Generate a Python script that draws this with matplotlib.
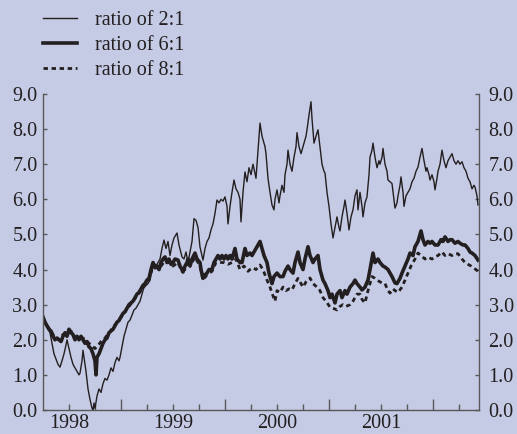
import matplotlib
matplotlib.use("Agg")
import matplotlib.pyplot as plt
import matplotlib.transforms as mtransforms
import numpy as np
from matplotlib.ticker import FixedLocator, FuncFormatter

# ---- data (x: weeks since start of April 1998) ----
r2_weeks = [0, 1, 2.5, 3.5, 4.5, 5.5, 6.5, 7.5, 8.5, 9.5, 10.5, 11.5, 12, 13, 14, 15, 16, 17, 18, 18.5,
            19.5, 20, 20.5, 21.5, 22.5, 23.5, 24.5, 25, 25.5, 26, 27, 28, 29, 30, 31, 32, 33, 34, 35, 36,
            37, 38, 38.5, 39.5, 40.5, 41.5, 42.5, 43.5, 44.5, 45.5, 46.5, 47.5, 48.5, 49.5, 50.5, 51.5,
            52.5, 53.5, 54.5, 55.5, 56.5, 57.5, 58.5, 59.5, 60.5, 61.5, 62.5, 63.5, 64.5, 65.5, 67, 68,
            69.5, 70.5, 71.5, 72.5, 73.5, 74.5, 75.5, 76.5, 77.5, 78.5, 79.5, 80, 81, 82, 83, 84, 85, 86,
            87, 88, 89, 90, 91, 92, 92.5, 93.5, 94.5, 95.5, 96.5, 97.5, 98.5, 99, 100, 101, 102, 103, 104,
            105, 106.5, 107.5, 108.5, 109.5, 110.5, 111, 111.5, 112.5, 113.5, 114.5, 115.5, 116, 117, 118,
            118.5, 119.5, 120.5, 121, 122, 122.5, 123.5, 124.5, 125.5, 126.5, 127, 128, 129, 129.5, 130.5,
            131.5, 132, 133, 134, 134.5, 135.5, 136.5, 137.5, 138.5, 139.5, 140.5, 141, 142, 143, 144, 145,
            146, 147, 148, 148.5, 149.5, 150.5, 151, 152, 153, 154, 155, 156, 157, 157.5, 158.5, 159.5, 160,
            161, 162, 163, 163.5, 164.5, 165, 166, 167, 168, 168.5, 169.5, 170, 171, 172, 172.5, 173.5,
            174.5, 175.5, 176, 177, 177.5, 178.5, 179, 180, 180.5, 181.5, 182.5, 183.5, 184.5, 185.5, 186.5,
            187.5, 188.5, 189.5, 190.5, 191.5, 192, 193, 193.5, 194.5, 195.5, 196, 197, 197.5, 198.5, 199.5,
            200.5, 201.5, 202.5, 203.5, 204.5, 205.5, 206.5, 207.5, 208.5, 209.5, 210.5, 211.5, 212.5,
            213.5, 214.5, 215.5, 216, 217, 217.5]
r2_vals = [2.65, 2.45, 2.3, 2.2, 1.9, 1.6, 1.45, 1.3, 1.22, 1.4, 1.6, 1.85, 2.0, 1.75, 1.5, 1.3, 1.2, 1.1, 1.0, 1.05,
           1.4, 1.7, 1.5, 1.1, 0.6, 0.3, 0.05, 0.0, 0.2, 0.05, 0.4, 0.6, 0.5, 0.75, 0.9, 0.85, 1.0, 1.2, 1.1, 1.35,
           1.5, 1.4, 1.5, 1.8, 2.1, 2.3, 2.5, 2.56, 2.7, 2.85, 2.9, 3.0, 3.1, 3.3, 3.5, 3.55,
           3.6, 3.7, 4.0, 4.2, 4.1, 4.2, 4.3, 4.6, 4.84, 4.6, 4.8, 4.4, 4.7, 4.9, 5.04, 4.7,
           4.36, 4.3, 4.5, 4.2, 4.5, 4.8, 5.45, 5.4, 5.2, 4.64, 4.4, 4.27, 4.6, 4.8, 4.9, 5.13, 5.3, 5.6,
           5.98, 5.9, 6.0, 5.95, 6.07, 5.8, 5.3, 5.8, 6.2, 6.55, 6.3, 6.2, 6.0, 5.36, 6.2, 6.78, 6.5, 6.9, 6.7,
           7.0, 6.6, 7.4, 8.17, 7.8, 7.6, 7.5, 7.3, 6.6, 6.2, 5.84, 5.7, 6.0, 6.27, 5.9,
           6.1, 6.4, 6.2, 6.7, 7.0, 7.4, 7.0, 6.8, 7.2, 7.5, 7.9, 7.5, 7.3, 7.4, 7.6,
           7.8, 7.98, 8.4, 8.78, 8.3, 7.6, 7.8, 7.98, 7.5, 7.0, 6.8, 6.75, 6.2, 5.8, 5.3, 4.9,
           5.2, 5.5, 5.2, 5.1, 5.5, 5.8, 5.98, 5.6, 5.13, 5.5, 5.7, 6.1, 6.27, 5.7, 6.2, 5.8, 5.5,
           5.9, 6.07, 6.7, 7.2, 7.4, 7.6, 7.2, 6.9, 7.1, 7.0, 7.2, 7.45, 7.0, 6.8, 6.55, 6.5,
           6.45, 6.0, 5.75, 5.9, 6.1, 6.4, 6.64, 6.2, 5.8, 6.1, 6.2, 6.3, 6.5, 6.6, 6.8,
           6.92, 7.2, 7.45, 7.1, 6.8, 6.9, 6.7, 6.55, 6.7, 6.5, 6.27, 6.6, 6.8, 7.0, 7.4,
           7.1, 6.9, 7.1, 7.2, 7.3, 7.1, 7.0, 7.1, 7.0, 7.07, 6.9, 6.8, 6.6,
           6.5, 6.3, 6.4, 6.35, 6.1, 5.84]

r6_weeks = [0, 1, 2, 3, 4, 5, 6, 7, 8, 9, 10, 11, 12, 13, 14, 15, 16, 17, 18, 19, 20, 21, 22, 23, 24, 25, 26,
            26.5, 27, 28, 29, 30, 31, 32, 33, 34, 35, 36, 37, 38, 39, 40, 41, 42, 43, 44, 45, 46, 47, 48, 49,
            50, 51, 52, 53, 54, 55, 56, 57, 58, 59, 60, 61, 62, 63, 64, 65, 66, 67.5, 68.5, 69.5, 70, 71, 72,
            72.5, 73.5, 74.5, 76, 77, 78.5, 79, 80, 81, 82, 83, 84.5, 85.5, 86.5, 87.5, 88.5, 89.5, 90.5,
            91.5, 92.5, 93.5, 94.5, 96, 97, 98.5, 99.5, 101, 102, 103.5, 104.5, 105.5, 106.5, 107.5, 108.5,
            109.5, 110.5, 112, 113, 113.5, 114.5, 115.5, 117, 118.5, 120, 121, 122.5, 123.5, 125, 126, 127.5,
            128.5, 130, 131, 132.5, 133.5, 135, 136, 137.5, 138.5, 140, 141, 142.5, 143.5, 144.5, 146, 147,
            148.5, 149.5, 151, 152, 153.5, 155, 156, 157, 158.5, 159.5, 161, 162.5, 163.5, 165, 166, 167.5,
            168.5, 170, 171, 172.5, 173.5, 174.5, 176, 177, 178.5, 179.5, 181, 182.5, 183.5, 185, 186, 187.5,
            189, 190, 191, 192.5, 193.5, 194.5, 196, 197.5, 199, 200, 201, 202.5, 203.5, 204.5, 206, 207.5,
            208.5, 210, 211, 212.5, 213.5, 214.5, 216, 217.5]
r6_vals = [2.65, 2.5, 2.4, 2.3, 2.25, 2.1, 2.0, 2.05, 2.0, 1.95, 2.1, 2.2, 2.1, 2.3, 2.2, 2.15, 2.0, 2.1, 2.0, 2.1,
           2.0, 1.9, 1.95, 1.8, 1.75, 1.6, 1.4, 1.0, 1.5, 1.6, 1.75, 1.9, 2.0, 2.05, 2.2, 2.25, 2.3, 2.4, 2.5,
           2.55, 2.65, 2.75, 2.8, 2.9, 3.0, 3.05, 3.1, 3.2, 3.3, 3.35, 3.45, 3.55, 3.6, 3.7, 3.75, 4.0, 4.2,
           4.05, 4.1, 4.0, 4.2, 4.3, 4.36, 4.2, 4.3, 4.15, 4.2, 4.3, 4.27, 4.1, 4.0, 3.93, 4.1, 4.2, 4.3, 4.1,
           4.3, 4.47, 4.3, 4.2, 4.0, 3.75, 3.85, 3.9, 4.0, 4.0, 4.2, 4.3, 4.4, 4.3, 4.4, 4.3, 4.4, 4.3, 4.4,
           4.3, 4.6, 4.3, 4.2, 4.2, 4.6, 4.4, 4.47, 4.4, 4.5, 4.6, 4.7, 4.8, 4.6, 4.4, 4.2, 3.9, 3.8, 3.6,
           3.8, 3.9, 3.8, 3.8, 3.95, 4.1, 4.0, 3.9, 4.2, 4.5, 4.2, 4.0, 4.3, 4.65, 4.4, 4.2, 4.3, 4.4, 4.0,
           3.7, 3.6, 3.4, 3.2, 3.3, 3.05, 3.3, 3.4, 3.2, 3.4, 3.3, 3.5, 3.6, 3.7, 3.6, 3.5, 3.42, 3.5, 3.7,
           4.0, 4.47, 4.2, 4.3, 4.2, 4.1, 4.07, 4.0, 3.9, 3.8, 3.62, 3.6, 3.75, 3.9, 4.1, 4.3, 4.47, 4.4,
           4.65, 4.8, 5.1, 4.85, 4.7, 4.8, 4.75, 4.8, 4.7, 4.7, 4.85, 4.8, 4.93, 4.8, 4.85, 4.85, 4.75, 4.8,
           4.75, 4.7, 4.7, 4.6, 4.5, 4.47, 4.4, 4.27]

r8_weeks = [0, 2, 4, 6, 8, 10, 12, 14, 16, 18, 20, 22, 24, 26, 27, 29, 31, 33, 35, 37, 39, 41, 43, 45, 47, 49,
            51, 53, 55, 57, 59, 61, 63, 65, 67.5, 69.5, 71, 72.5, 74.5, 76, 78.5, 80, 82, 84.5, 86.5, 88.5,
            90.5, 92.5, 94.5, 96.5, 98.5, 100.5, 102.5, 103.5, 105, 106.5, 108.5, 110, 112, 113.5, 114.5, 116,
            117, 118.5, 120, 121.5, 123, 124.5, 126, 127.5, 129, 130, 131.5, 133.5, 135, 137, 138.5, 140,
            141.5, 143.5, 145, 147, 148.5, 150, 151.5, 153.5, 155, 157, 158.5, 159.5, 161, 162.5, 164.5, 166,
            167, 168.5, 170, 171, 172.5, 173.5, 175, 176, 177.5, 179.5, 181, 182.5, 184, 185, 186.5, 187.5,
            189, 191, 192.5, 194.5, 196, 197.5, 199.5, 201, 202.5, 204.5, 206, 207.5, 209.5, 211, 212.5, 214,
            215, 216.5, 217.5]
r8_vals = [2.6, 2.4, 2.25, 2.05, 2.0, 2.15, 2.15, 2.25, 2.05, 2.05, 2.05, 1.95, 1.85, 1.75, 1.8, 1.95, 2.05, 2.2,
           2.35, 2.5, 2.65, 2.8, 2.95, 3.1, 3.25, 3.4, 3.55, 3.7, 4.1, 4.05, 4.1, 4.25, 4.2, 4.1, 4.2, 3.95, 4.0,
           4.2, 4.2, 4.35, 4.1, 3.7, 3.85, 3.95, 4.2, 4.2, 4.2, 4.15, 4.2, 4.3, 4.0, 4.1, 3.95, 4.0, 4.05, 4.0,
           4.13, 4.0, 3.7, 3.5, 3.33, 3.1, 3.4, 3.35, 3.5, 3.4, 3.45, 3.42, 3.6, 3.75, 3.6, 3.5, 3.65, 3.76,
           3.6, 3.5, 3.4, 3.2, 3.1, 2.93, 2.9, 2.85, 2.95, 3.0, 2.95, 3.0, 3.1, 3.3, 3.3, 3.15, 3.05, 3.4, 3.8,
           3.75, 3.7, 3.65, 3.6, 3.6, 3.4, 3.33, 3.45, 3.4, 3.35, 3.5, 3.7, 3.9, 4.1, 4.2, 4.35, 4.47, 4.4,
           4.3, 4.35, 4.3, 4.36, 4.4, 4.5, 4.4, 4.45, 4.4, 4.45, 4.45, 4.3, 4.2, 4.15, 4.1, 4.05, 4.0, 3.95]

labels = ["ratio of 2:1", "ratio of 6:1", "ratio of 8:1"]
y_ticks = [0, 1, 2, 3, 4, 5, 6, 7, 8, 9]
year_labels = [1998, 1999, 2000, 2001]

START = 1998.25  # data start: beginning of April 1998


def to_year(w):
    return START + np.asarray(w, dtype=float) / 52.0


BG = "#c6cbe5"
INK = "#231f20"
SPINE = "#58585a"
FS = 14.5

plt.rcParams["font.family"] = ["Liberation Serif", "DejaVu Serif"]

fig = plt.figure(figsize=(5.17, 4.34), dpi=100, facecolor=BG)
ax = fig.add_axes([43 / 517, 1 - 410 / 434, (479 - 43) / 517, (410 - 94) / 434])
ax.set_facecolor(BG)

l8, = ax.plot(to_year(r8_weeks), r8_vals, color=INK, lw=2.0, linestyle=(0, (1.6, 1.3)), label=labels[2])
l6, = ax.plot(to_year(r6_weeks), r6_vals, color=INK, lw=2.6, label=labels[1])
l2, = ax.plot(to_year(r2_weeks), r2_vals, color=INK, lw=1.0, label=labels[0])

ax.set_xlim(START, START + 218 / 52)
ax.set_ylim(0, 9)

# spines
ax.spines["top"].set_visible(False)
for s in ("left", "right", "bottom"):
    ax.spines[s].set_color(SPINE)
    ax.spines[s].set_linewidth(1.0)

# y ticks on both sides
ax.set_yticks(y_ticks)
ax.yaxis.set_major_formatter(FuncFormatter(lambda v, p: f"{v:.1f}"))
ax.tick_params(axis="y", which="both", direction="in", length=3, width=1, color=SPINE,
               left=True, right=True, labelleft=True, labelright=True,
               labelsize=FS, labelcolor=INK, pad=4)

# x ticks: years (major), quarters (minor), labels centred in each year
ax.xaxis.set_major_locator(FixedLocator([1999, 2000, 2001, 2002]))
ax.xaxis.set_major_formatter(FuncFormatter(lambda v, p: ""))
quarters = [1998.5, 1998.75, 1999.25, 1999.5, 1999.75, 2000.25, 2000.5, 2000.75,
            2001.25, 2001.5, 2001.75, 2002.25]
ax.xaxis.set_minor_locator(FixedLocator(quarters))
label_pos = {y + 0.5: str(y) for y in year_labels}
ax.xaxis.set_minor_formatter(FuncFormatter(lambda v, p: label_pos.get(round(v, 2), "")))
ax.tick_params(axis="x", which="major", direction="in", length=8, width=1, color=SPINE)
ax.tick_params(axis="x", which="minor", direction="in", length=4.5, width=1, color=SPINE,
               labelsize=FS, labelcolor=INK, pad=3)

leg = fig.legend(handles=[l2, l6, l8], labels=labels, loc="upper left",
                 bbox_to_anchor=(43 / 517, 1 - 11 / 434), frameon=False,
                 fontsize=FS, handlelength=1.7, handletextpad=0.9, labelspacing=0.28,
                 borderpad=0, borderaxespad=0)
for t in leg.get_texts():
    t.set_color(INK)

fig.canvas.draw()
# shift the right-hand tick labels a little further from the spine
offset = mtransforms.ScaledTranslation(4 / 100, 0, fig.dpi_scale_trans)
for t in ax.yaxis.get_major_ticks():
    t.label2.set_transform(t.label2.get_transform() + offset)

fig.savefig("out.png", dpi=100, facecolor=BG)
